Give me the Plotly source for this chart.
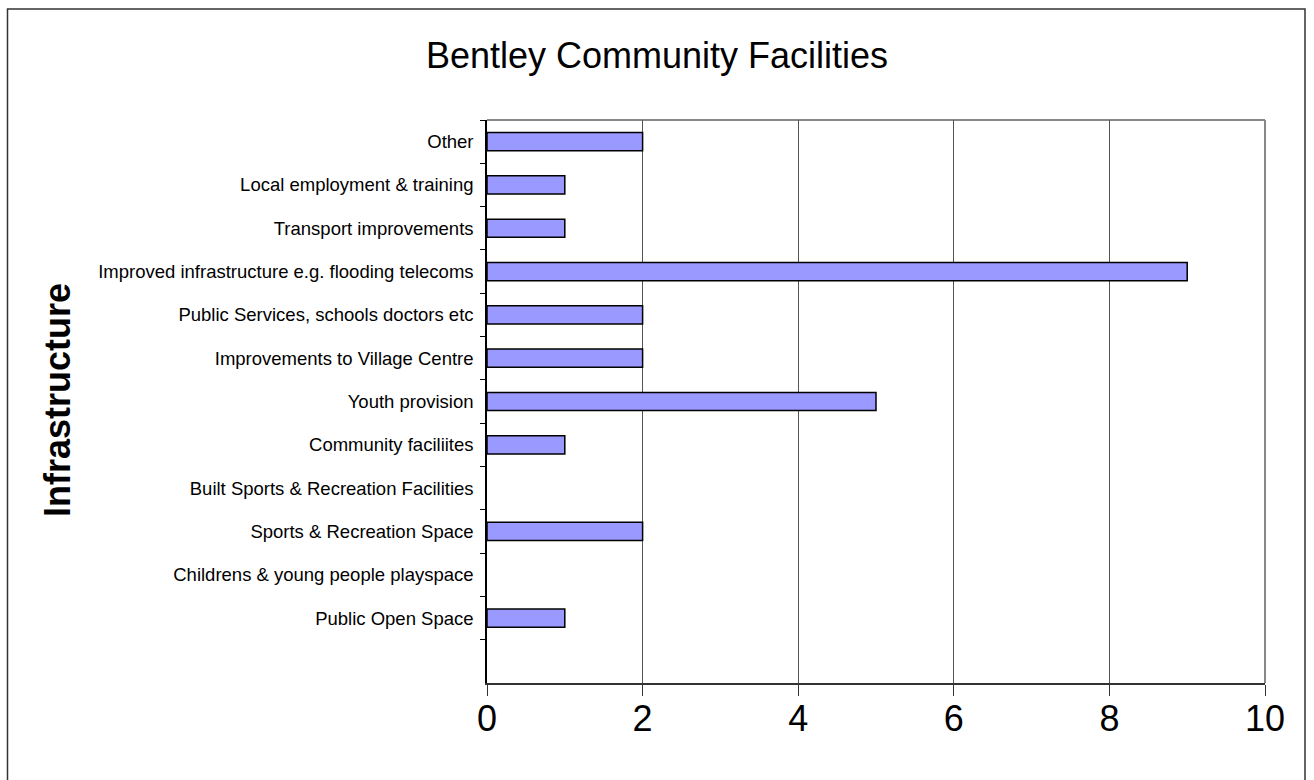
import plotly.graph_objects as go

categories = [
    "Public Open Space",
    "Childrens & young people playspace",
    "Sports & Recreation Space",
    "Built Sports & Recreation Facilities",
    "Community faciliites",
    "Youth provision",
    "Improvements to Village Centre",
    "Public Services, schools doctors etc",
    "Improved infrastructure e.g. flooding telecoms",
    "Transport improvements",
    "Local employment & training",
    "Other",
]
values = [1, None, 2, None, 1, 5, 2, 2, 9, 1, 1, 2]
x_ticks = [0, 2, 4, 6, 8, 10]

FONT = "Liberation Sans, Arial, sans-serif"

fig = go.Figure()
fig.add_trace(go.Bar(
    x=values,
    y=categories,
    orientation="h",
    marker=dict(color="#9999FF", line=dict(color="black", width=1.5)),
    hoverinfo="x+y",
))

# plot geometry (px)
L, R, T, B = 487, 1265, 120, 683
W, H = R - L, B - T

def px(xp):
    return (xp - L) / W

def py(yp):
    return (B - yp) / H

fig.update_layout(
    width=1314,
    height=780,
    margin=dict(l=L, r=1314 - R, t=T, b=780 - B, pad=0),
    paper_bgcolor="white",
    plot_bgcolor="white",
    showlegend=False,
    bargap=0.58,
    font=dict(family=FONT, color="black"),
    title=dict(
        text="Bentley Community Facilities",
        font=dict(family=FONT, size=36, color="black"),
        x=0.5, xref="container", xanchor="center",
        y=1 - 55 / 780, yref="container", yanchor="middle",
    ),
    xaxis=dict(
        range=[0, 10],
        tickvals=x_ticks,
        ticktext=[str(v) for v in x_ticks],
        tickfont=dict(family=FONT, size=36, color="black"),
        ticks="outside", ticklen=11, tickcolor="#333333", tickwidth=1,
        showgrid=True, gridcolor="#555555", gridwidth=1,
        showline=True, linecolor="#333333", linewidth=2,
        zeroline=False, automargin=False,
        ticklabelstandoff=-8,
    ),
    yaxis=dict(
        type="category",
        categoryorder="array",
        categoryarray=categories,
        range=[-1.5, 11.5],
        tickson="boundaries",
        ticks="outside", ticklen=5, tickcolor="black", tickwidth=1,
        tickfont=dict(family=FONT, size=18.5, color="black"),
        showgrid=False,
        showline=True, linecolor="black", linewidth=1.5,
        zeroline=False, automargin=False,
        ticklabelstandoff=8,
    ),
    shapes=[
        # plot area border (top and right)
        dict(type="line", xref="paper", yref="paper", x0=0, x1=1, y0=1, y1=1,
             line=dict(color="#888888", width=2), layer="below"),
        dict(type="line", xref="paper", yref="paper", x0=1, x1=1, y0=0, y1=1,
             line=dict(color="#888888", width=2), layer="below"),
        # outer chart frame
        dict(type="rect", xref="paper", yref="paper",
             x0=px(7.5), x1=px(1305), y0=py(795), y1=py(9),
             line=dict(color="#333333", width=1.5), layer="above"),
    ],
    annotations=[
        dict(text="<b>Infrastructure</b>", xref="paper", yref="paper",
             x=px(57), y=py(400), xanchor="center", yanchor="middle",
             textangle=-90, showarrow=False,
             font=dict(family=FONT, size=36, color="black")),
    ],
)

fig.write_html(
    "out.html",
    config={"displayModeBar": False},
    post_script="document.body.style.margin='0';document.body.style.overflow='hidden';",
)
